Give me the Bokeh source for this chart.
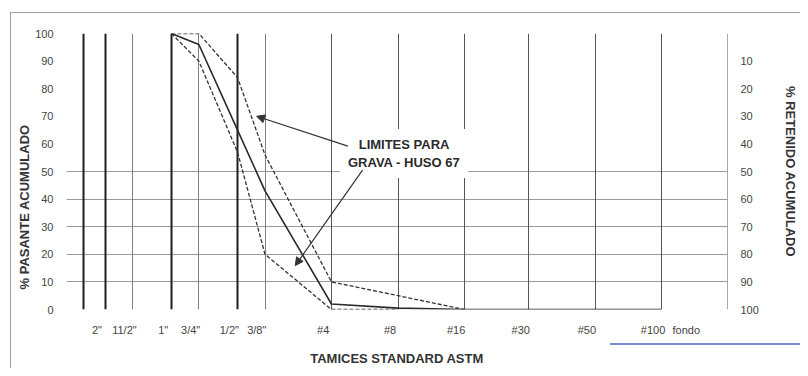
from bokeh.plotting import figure
from bokeh.models import (Range1d, LinearAxis, FixedTicker, Grid, Label, Arrow,
                          NormalHead, Span, Title)
from bokeh.embed import file_html
from bokeh.resources import INLINE

# ---------------- data ----------------
sieve_labels = ['2"', '11/2"', '1"', '3/4"', '1/2"', '3/8"', '#4', '#8', '#16',
                '#30', '#50', '#100', 'fondo']
sieve_mm = [50.8, 38.1, 25.4, 19.05, 12.7, 9.525, 4.75, 2.36, 1.18, 0.60,
            0.30, 0.15, 0.106]

thick_lines_mm = [63.5, 50.8, 25.4, 12.7]
thin_lines_mm = [38.1, 19.05, 9.525]
fine_lines_mm = [4.75, 2.36, 1.18, 0.60, 0.30, 0.15, 0.075]

muestra_mm = [25.4, 19.05, 12.7, 9.525, 4.75, 2.36, 1.18, 0.60, 0.30, 0.15]
muestra_pct = [100, 96, 65, 43, 2, 0.5, 0, 0, 0, 0]

lim_inf_mm = [25.4, 19.05, 12.7, 9.525, 4.75, 2.36]
lim_inf_pct = [100, 90, 57, 20, 0, 0]

lim_sup_mm = [25.4, 19.05, 12.7, 9.525, 4.75, 2.36, 1.18]
lim_sup_pct = [100, 100, 84, 56, 10, 5, 0]

pasante_ticks = [0, 10, 20, 30, 40, 50, 60, 70, 80, 90, 100]
retenido_ticks = [10, 20, 30, 40, 50, 60, 70, 80, 90, 100]
hgrid_ticks = [0, 10, 20, 30, 40, 50, 100]

FONT = "Liberation Sans"
LABEL_SHIFT = 1.09   # tick labels sit slightly left of their sieve lines

p = figure(width=800, height=368, x_axis_type="log",
           x_range=Range1d(76.2, 0.075), y_range=Range1d(0, 100),
           output_backend="svg", toolbar_location=None,
           min_border_left=66, min_border_right=67,
           min_border_top=33, min_border_bottom=58)
p.outline_line_color = None
p.background_fill_color = "white"
p.border_fill_color = None
p.styles = {
    "background-color": "white",
    "background-image": "linear-gradient(#7d88d8, #7d88d8)",
    "background-size": "190px 2px",
    "background-position": "610px 343px",
    "background-repeat": "no-repeat",
    "box-shadow": "inset 10px 12px 0 0 #ffffff, inset 11px 13px 0 0 #a0a0a0",
}

# grids
p.xgrid.visible = False
p.ygrid.ticker = FixedTicker(ticks=hgrid_ticks)
p.ygrid.grid_line_color = "#9a9a9a"
p.ygrid.grid_line_width = 1

g_fine = Grid(dimension=0, ticker=FixedTicker(ticks=fine_lines_mm),
              grid_line_color="#555555", grid_line_width=1)
g_thin = Grid(dimension=0, ticker=FixedTicker(ticks=thin_lines_mm),
              grid_line_color="#808080", grid_line_width=1)
g_thick = Grid(dimension=0, ticker=FixedTicker(ticks=thick_lines_mm),
               grid_line_color="#1e1e1e", grid_line_width=2)
for g in (g_fine, g_thin, g_thick):
    p.add_layout(g)
p.add_layout(Span(location=0.075, dimension="height", line_color="#555555",
                  line_width=1))


def plain_axis(ax, standoff):
    ax.major_label_text_font = FONT
    ax.major_label_text_font_size = "11px"
    ax.major_label_text_color = "#444444"
    ax.major_label_standoff = standoff
    ax.axis_line_color = None
    ax.major_tick_line_color = None
    ax.minor_tick_line_color = None
    ax.major_tick_out = 0
    ax.major_tick_in = 0
    ax.minor_tick_out = 0
    ax.minor_tick_in = 0


# x axis
tick_pos = [m * LABEL_SHIFT for m in sieve_mm]
xa = p.xaxis[0]
xa.ticker = FixedTicker(ticks=tick_pos)
xa.major_label_overrides = {t: l for t, l in zip(tick_pos, sieve_labels)}
plain_axis(xa, 14)
xa.axis_label = "TAMICES STANDARD ASTM"
xa.axis_label_text_font = FONT
xa.axis_label_text_font_style = "bold"
xa.axis_label_text_font_size = "13px"
xa.axis_label_text_color = "#333333"
xa.axis_label_standoff = 12

# left y axis
ya = p.yaxis[0]
ya.ticker = FixedTicker(ticks=pasante_ticks)
plain_axis(ya, 13)

# right y axis (retenido)
p.extra_y_ranges = {"ret": Range1d(100, 0)}
ra = LinearAxis(y_range_name="ret", ticker=FixedTicker(ticks=retenido_ticks))
plain_axis(ra, 13)
ra.axis_label = "% RETENIDO ACUMULADO"
ra.axis_label_text_font = FONT
ra.axis_label_text_font_style = "bold"
ra.axis_label_text_font_size = "13px"
ra.axis_label_text_color = "#333333"
ra.axis_label_standoff = 21
p.add_layout(ra, "right")

# left axis title, sitting lower than the frame centre as in the reference
p.add_layout(Title(text="% PASANTE ACUMULADO", align="left", offset=20,
                   standoff=2, text_font=FONT, text_font_style="bold",
                   text_font_size="13px", text_color="#333333"), "left")

# curves
p.line(muestra_mm, muestra_pct, line_color="#2a2a2a", line_width=1.6)
p.line(lim_inf_mm, lim_inf_pct, line_color="#333333", line_width=1.3,
       line_dash="4 2")
p.line(lim_sup_mm, lim_sup_pct, line_color="#333333", line_width=1.3,
       line_dash="4 2")

# annotation
p.add_layout(Label(x=2.22, y=56.5, text="LIMITES PARA\nGRAVA - HUSO 67",
                   text_align="center", text_baseline="middle",
                   text_font=FONT, text_font_style="bold",
                   text_font_size="13px", text_color="#2a2a2a",
                   text_line_height=1.2,
                   background_fill_color="white", padding=8))
p.add_layout(Arrow(end=NormalHead(size=8, fill_color="#333333",
                                  line_color="#333333"),
                   x_start=4.0, y_start=59.2, x_end=10.4, y_end=70,
                   line_color="#333333", line_width=1.2))
p.add_layout(Arrow(end=NormalHead(size=8, fill_color="#333333",
                                  line_color="#333333"),
                   x_start=3.43, y_start=50.5, x_end=6.94, y_end=15.9,
                   line_color="#333333", line_width=1.2))

open("out.html", "w").write(file_html(p, INLINE))
